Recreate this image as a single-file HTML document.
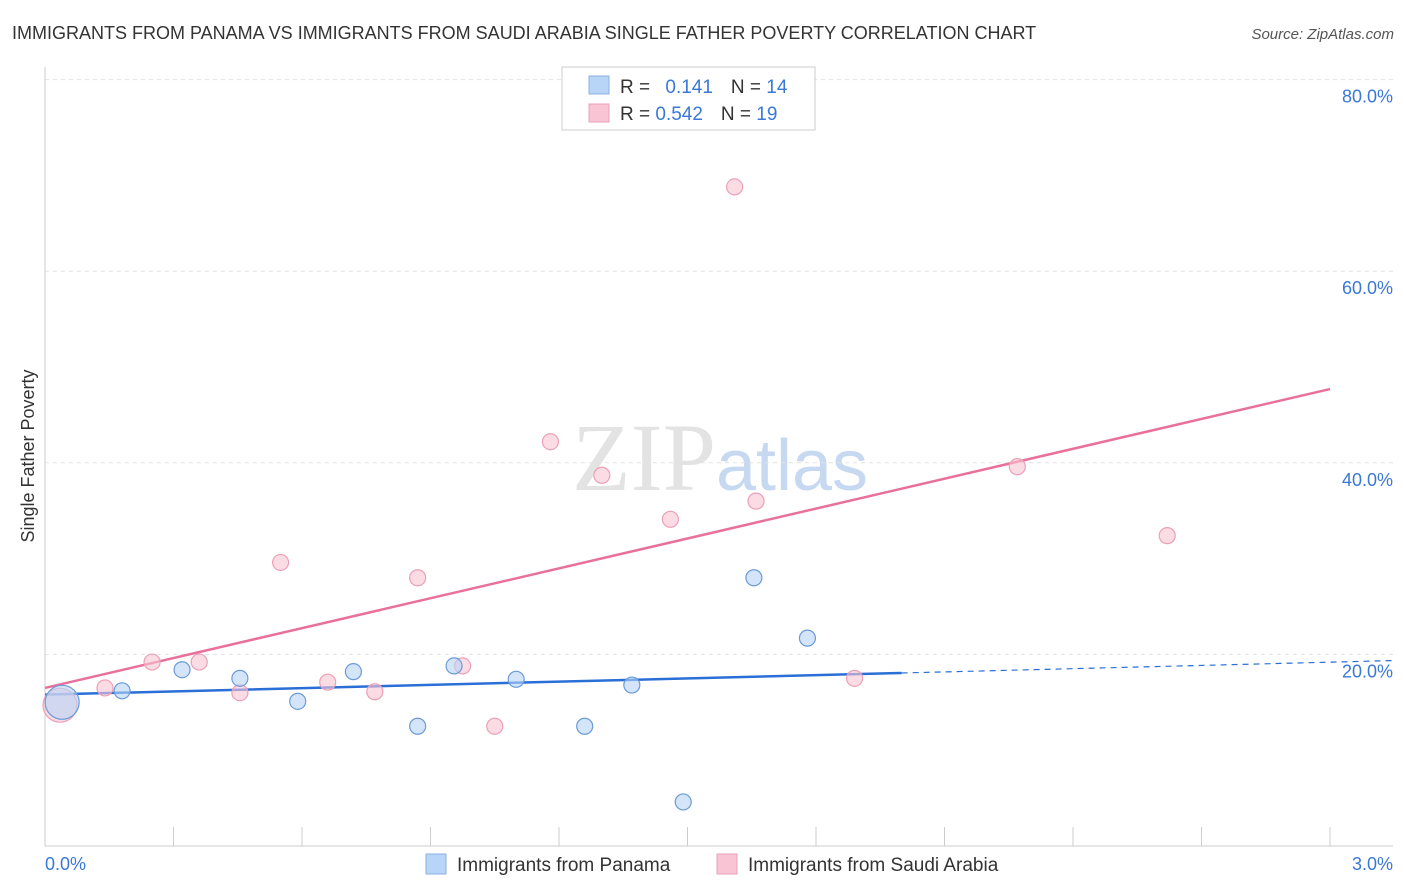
<!DOCTYPE html>
<html><head><meta charset="utf-8"><style>
body{margin:0;background:#fff;font-family:"Liberation Sans",sans-serif;}
svg{display:block}
</style></head><body>
<svg id="chart" width="1406" height="892" viewBox="0 0 1406 892">
<text x="12" y="39" font-size="18" fill="#333">IMMIGRANTS FROM PANAMA VS IMMIGRANTS FROM SAUDI ARABIA SINGLE FATHER POVERTY CORRELATION CHART</text>
<text x="1394" y="39" font-size="15" fill="#555" text-anchor="end" font-style="italic">Source: ZipAtlas.com</text>
<text x="720" y="490" font-size="96" text-anchor="middle" font-family="Liberation Serif" fill="#ddd" opacity="0.8">ZIP<tspan fill="#b8d0ee" font-family="Liberation Sans" font-size="72">atlas</tspan></text>
<text transform="translate(34,456) rotate(-90)" font-size="18" fill="#333" text-anchor="middle">Single Father Poverty</text>
<g id="grid"></g><g id="axes"></g><g id="lines"></g><g id="points"></g>
<g>
<rect x="562" y="67" width="253" height="63" fill="#fff" stroke="#ccc"/>
<rect x="589" y="76" width="20" height="18" fill="#b8d4f6" stroke="#8ab0e0"/>
<rect x="589" y="104" width="20" height="18" fill="#f9c4d4" stroke="#eca0b8"/>
<text x="620" y="93" font-size="19" fill="#333">R = <tspan fill="#3a78d8" dx="10">0.141</tspan><tspan dx="18" fill="#333">N = </tspan><tspan fill="#3a78d8">14</tspan></text>
<text x="620" y="120" font-size="19" fill="#333">R = <tspan fill="#3a78d8">0.542</tspan><tspan dx="18" fill="#333">N = </tspan><tspan fill="#3a78d8">19</tspan></text>
</g>
<g>
<rect x="426" y="854" width="20" height="20" fill="#b8d4f6" stroke="#8ab0e0"/>
<text x="457" y="871" font-size="19" fill="#333">Immigrants from Panama</text>
<rect x="717" y="854" width="20" height="20" fill="#f9c4d4" stroke="#eca0b8"/>
<text x="748" y="871" font-size="19" fill="#333">Immigrants from Saudi Arabia</text>
</g>
</svg>
<script>
const yTicks=[20,40,60,80];
const yTickLabels=["20.0%","40.0%","60.0%","80.0%"];
const xTickLabels=["0.0%","3.0%"];
const panamaX=[0.04,0.18,0.32,0.455,0.59,0.72,0.87,0.955,1.10,1.26,1.37,1.49,1.655,1.78];
const panamaY=[15.0,16.2,18.4,17.5,15.1,18.2,12.5,18.8,17.4,12.5,16.8,4.6,28.0,21.7];
const saudiX=[0.035,0.14,0.25,0.36,0.455,0.55,0.66,0.77,0.87,0.975,1.05,1.18,1.30,1.46,1.61,1.66,1.89,2.27,2.62];
const saudiY=[14.7,16.5,19.2,19.2,16.0,29.6,17.1,16.1,28.0,18.8,12.5,42.2,38.7,34.1,68.8,36.0,17.5,39.6,32.4];
const panamaTrend=[15.8,1.13];
const saudiTrend=[16.5,10.4];
const NS="http://www.w3.org/2000/svg";
const X=v=>45+v*(1285/3), Y=v=>846-v*9.58;
function mk(p,t,a){const e=document.createElementNS(NS,t);for(const k in a)e.setAttribute(k,a[k]);p.appendChild(e);return e;}
const grid=document.getElementById('grid'),axes=document.getElementById('axes'),lines=document.getElementById('lines'),pts=document.getElementById('points');
yTicks.forEach((t,i)=>{
 const l=mk(grid,'line',{x1:45,x2:1393,y1:Y(t),y2:Y(t),stroke:'#e2e2e2','stroke-dasharray':'4,4'});
 
 
 const tx=mk(grid,'text',{x:1393,y:Y(t)+23,'font-size':18,fill:'#3a78d8','text-anchor':'end'});tx.textContent=yTickLabels[i];
 
 
});
const ax=mk(axes,'line',{x1:45,x2:1393,y1:846,y2:846,stroke:'#ccc'});


const ay=mk(axes,'line',{x1:45,x2:45,y1:67,y2:846,stroke:'#ccc'});


for(let i=1;i<=10;i++){const t=mk(axes,'line',{x1:X(i*0.3),x2:X(i*0.3),y1:827,y2:846,stroke:'#ccc'});
 
 }
[[0,'start',45],[1,'end',1393]].forEach(([i,a,x])=>{const t=mk(axes,'text',{x:x,y:870,'font-size':18,fill:'#3a78d8','text-anchor':a});t.textContent=xTickLabels[i];
 
 });
function dot(x,y,r,f,s){const c=mk(pts,'circle',{cx:X(x),cy:Y(y),r:r,fill:f,stroke:s,'stroke-width':1.2,'fill-opacity':0.6});return c;}
saudiX.forEach((x,i)=>{const c=dot(x,saudiY[i],i==0?17:8,'#f9c4d4','#eca0b8');
 
 });
panamaX.forEach((x,i)=>{const c=dot(x,panamaY[i],i==0?17:8,'#b8d4f6','#6a9ad8');
 
 });
const tb=v=>panamaTrend[0]+panamaTrend[1]*v, ts=v=>saudiTrend[0]+saudiTrend[1]*v;
const l1=mk(lines,'line',{x1:X(0),y1:Y(tb(0)),x2:X(2.0),y2:Y(tb(2.0)),stroke:'#2a6fd6','stroke-width':2.5});


const l2=mk(lines,'line',{x1:X(2.0),y1:Y(tb(2.0)),x2:X(3.15),y2:Y(tb(3.15)),stroke:'#2a6fd6','stroke-width':1.2,'stroke-dasharray':'6,5'});


const l3=mk(lines,'line',{x1:X(0),y1:Y(ts(0)),x2:X(3),y2:Y(ts(3)),stroke:'#e8709a','stroke-width':2.5});


</script>
</body></html>
